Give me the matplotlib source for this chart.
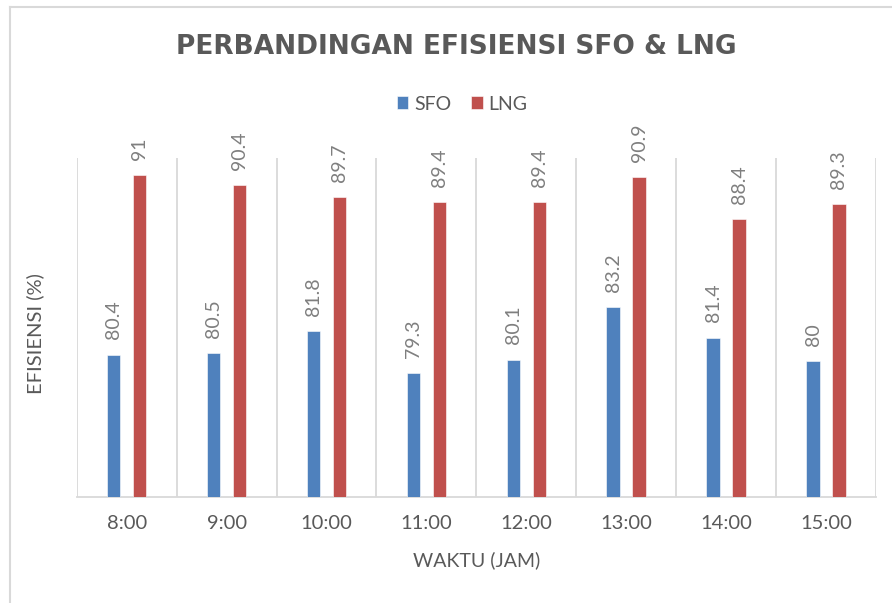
import matplotlib.pyplot as plt
import numpy as np

# data
WAKTU = ["8:00", "9:00", "10:00", "11:00", "12:00", "13:00", "14:00", "15:00"]
SFO = [80.4, 80.5, 81.8, 79.3, 80.1, 83.2, 81.4, 80.0]
LNG = [91.0, 90.4, 89.7, 89.4, 89.4, 90.9, 88.4, 89.3]

BLUE = "#4F81BD"
RED = "#C0504D"
GRID = "#D9D9D9"
TEXT = "#595959"
LABEL = "#7F7F7F"

plt.rcParams["font.family"] = ["Lato", "DejaVu Sans"]


def fmt(v: float) -> str:
    return f"{v:g}"


def main() -> None:
    fig = plt.figure(figsize=(8.92, 6.03), dpi=100)
    ax = fig.add_axes([0.086, 0.1763, 0.896, 0.5612])

    x = np.arange(len(WAKTU))
    width = 0.135
    off = 0.13

    b1 = ax.bar(x - off, SFO, width, color=BLUE, label="SFO",
                edgecolor="white", linewidth=0.4, zorder=3)
    b2 = ax.bar(x + off, LNG, width, color=RED, label="LNG",
                edgecolor="white", linewidth=0.4, zorder=3)

    for bars, vals in ((b1, SFO), (b2, LNG)):
        for bar, v in zip(bars, vals):
            ax.annotate(
                fmt(v),
                (bar.get_x() + bar.get_width() / 2, v),
                xytext=(0, 11),
                textcoords="offset points",
                rotation=90,
                ha="center",
                va="bottom",
                fontsize=14,
                color=LABEL,
                annotation_clip=False,
            )

    ax.set_ylim(72, 92)
    ax.set_xlim(-0.5, len(WAKTU) - 0.5)

    # vertical separators between categories
    for b in np.arange(-0.5, len(WAKTU), 1.0):
        ax.axvline(b, color=GRID, linewidth=1.3, zorder=1)

    for side in ("top", "right", "left"):
        ax.spines[side].set_visible(False)
    ax.spines["bottom"].set_color(GRID)
    ax.spines["bottom"].set_linewidth(1.3)

    ax.set_yticks([])
    ax.set_xticks(x)
    ax.set_xticklabels(WAKTU, fontsize=14.5, color=TEXT)
    ax.tick_params(axis="x", length=0, pad=13)

    fig.text(0.5115, 0.922, "PERBANDINGAN EFISIENSI SFO & LNG",
             ha="center", va="center", fontsize=19, fontweight="bold",
             color=TEXT, family=["DejaVu Sans"])

    fig.legend(
        handles=[b1, b2],
        loc="center",
        bbox_to_anchor=(0.518, 0.8275),
        ncol=2,
        frameon=False,
        fontsize=14,
        handlelength=0.6,
        handleheight=0.6,
        handletextpad=0.3,
        columnspacing=1.0,
        labelcolor=TEXT,
    )

    fig.text(0.534, 0.071, "WAKTU (JAM)", ha="center", va="center",
             fontsize=14, color=TEXT)
    fig.text(0.039, 0.447, "EFISIENSI (%)", ha="center", va="center",
             rotation=90, fontsize=14.5, color=TEXT)

    # chart-area border (only top and left are visible in the crop)
    fig.add_artist(plt.Line2D([0.0112, 1.0], [0.9876, 0.9876],
                              transform=fig.transFigure, color=GRID, linewidth=1.5))
    fig.add_artist(plt.Line2D([0.0112, 0.0112], [0.0, 0.9876],
                              transform=fig.transFigure, color=GRID, linewidth=1.5))

    fig.savefig("out.png", dpi=100, facecolor="white")
    plt.close(fig)


if __name__ == "__main__":
    main()
